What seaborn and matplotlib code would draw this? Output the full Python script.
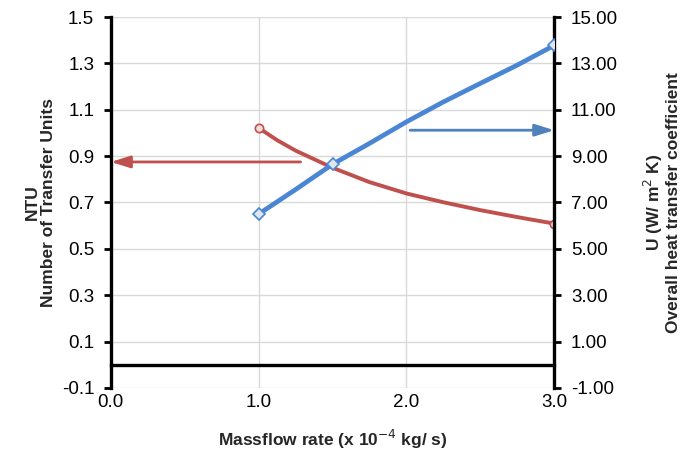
import numpy as np
import pandas as pd
import seaborn as sns
import matplotlib.pyplot as plt

# values
massflow = [1.0, 1.125, 1.25, 1.5, 1.75, 2.0, 2.25, 2.5, 2.75, 3.0]
ntu = [1.022, 0.969, 0.924, 0.850, 0.788, 0.739, 0.701, 0.667, 0.637, 0.609]
u_coef = [6.5, 7.03, 7.56, 8.65, 9.55, 10.48, 11.34, 12.14, 12.93, 13.78]
red_marks = [0, 9]
blue_marks = [0, 3, 9]

left_ticks = [-0.1, 0.1, 0.3, 0.5, 0.7, 0.9, 1.1, 1.3, 1.5]
right_ticks = [-1, 1, 3, 5, 7, 9, 11, 13, 15]
x_ticks = [0.0, 1.0, 2.0, 3.0]

red = "#C0504D"
blue = "#4A86D4"

sns.set_style("white")
plt.rcParams['font.family'] = ['Liberation Sans', 'DejaVu Sans']

df = pd.DataFrame({"m": massflow, "ntu": ntu, "u": u_coef})

fig = plt.figure(figsize=(6.8, 4.51), dpi=100)
ax = fig.add_axes([0.163, 0.14, 0.652, 0.822])
ax2 = ax.twinx()

sns.lineplot(data=df, x="m", y="ntu", ax=ax, color=red, lw=2.8, marker="o",
             markevery=red_marks, ms=6, mfc="#f2dcdb", mec=red, mew=1.2, zorder=3,
             solid_joinstyle="round", solid_capstyle="round")
sns.lineplot(data=df, x="m", y="u", ax=ax2, color=blue, lw=3.4, marker="D",
             markevery=blue_marks, ms=6.5, mfc="#dce6f2", mec=blue, mew=1.2, zorder=3,
             solid_joinstyle="round", solid_capstyle="round")

ax.set_xlim(0, 3)
ax.set_ylim(-0.1, 1.5)
ax2.set_ylim(-1, 15)
ax.set_yticks(left_ticks)
ax.set_yticklabels([f"{t:.1f}" for t in left_ticks])
ax2.set_yticks(right_ticks)
ax2.set_yticklabels([f"{t:.2f}" for t in right_ticks])
ax.set_xticks(x_ticks)
ax.set_xticklabels([f"{t:.1f}" for t in x_ticks])

ax.grid(True, color="#d9d9d9", lw=1)
ax.set_axisbelow(True)

for a in (ax, ax2):
    a.spines['top'].set_visible(False)
    for s in ('left', 'right', 'bottom'):
        a.spines[s].set_color("black")
        a.spines[s].set_linewidth(2.4)
ax2.spines['bottom'].set_visible(False)
ax2.spines['left'].set_visible(False)
ax.spines['right'].set_visible(False)
ax.spines['bottom'].set_position(('data', 0))

ax.tick_params(axis='y', direction='out', length=5, width=2, labelsize=13.5, pad=7, colors='black')
ax2.tick_params(axis='y', direction='out', length=5, width=2, labelsize=13.5, pad=7, colors='black')
ax.tick_params(axis='x', direction='out', length=4, width=2, labelsize=13.5, pad=17, colors='black')

ax.set_xlabel("Massflow rate (x 10$^{-4}$ kg/ s)", fontsize=12.5, fontweight='bold', labelpad=12)
ax.set_ylabel("NTU\nNumber of Transfer Units", fontsize=12.5, fontweight='bold', labelpad=4,
              linespacing=1.1)
ax2.set_ylabel("U (W/ m$^{2}$ K)\nOverall heat transfer coefficient", fontsize=12.5,
               fontweight='bold', labelpad=17, linespacing=1.1)

# direction arrows
ax.annotate("", xy=(0.0, 0.875), xytext=(1.284, 0.875),
            arrowprops=dict(arrowstyle="-|>,head_length=1.15,head_width=0.36", color=red, lw=2,
                            shrinkA=0, shrinkB=0, mutation_scale=10), zorder=2)
ax2.annotate("", xy=(3.0, 10.12), xytext=(2.025, 10.12),
             arrowprops=dict(arrowstyle="-|>,head_length=1.15,head_width=0.36", color="#4F81BD", lw=2,
                             shrinkA=0, shrinkB=0, mutation_scale=10), zorder=2)

fig.savefig("out.png", dpi=100)
